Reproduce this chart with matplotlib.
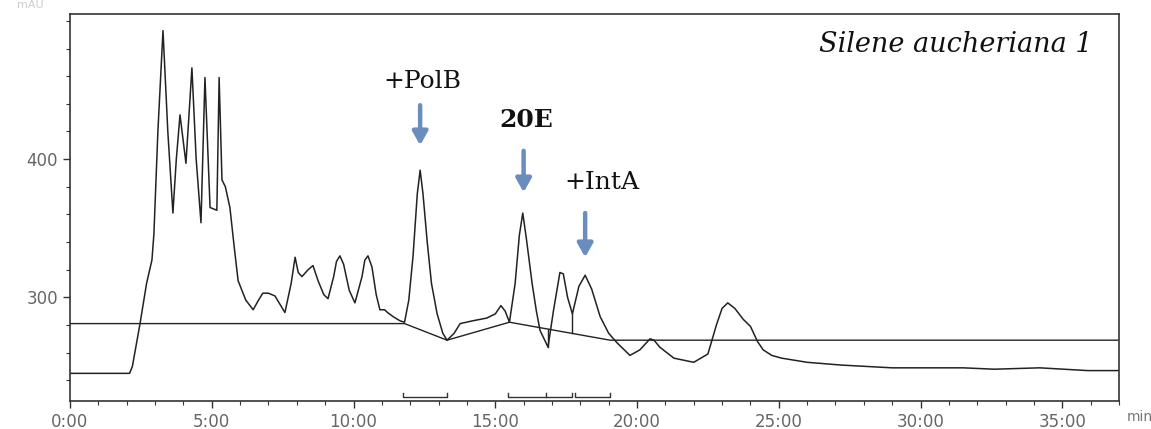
import numpy as np
import matplotlib
matplotlib.use("Agg")
import matplotlib.pyplot as plt
from matplotlib.ticker import MultipleLocator, FuncFormatter

# chromatogram trace (time in min, signal)
time = [0.0, 2.1, 2.2, 2.47, 2.7, 2.89, 2.96, 3.1, 3.28, 3.45, 3.63, 3.75, 3.88,
        4.09, 4.30, 4.45, 4.62, 4.76, 4.94, 5.18, 5.26, 5.36, 5.48, 5.64, 5.8,
        5.93, 6.2, 6.46, 6.65, 6.8, 7.0, 7.23, 7.58, 7.8, 7.94, 8.05, 8.18, 8.4,
        8.57, 8.75, 8.95, 9.1, 9.3, 9.4, 9.52, 9.65, 9.85, 10.05, 10.3, 10.4,
        10.51, 10.65, 10.8, 10.93, 11.1, 11.2, 11.4, 11.64, 11.8, 11.95, 12.1,
        12.25, 12.35, 12.45, 12.6, 12.75, 12.95, 13.15, 13.3, 13.55, 13.76, 14.2,
        14.7, 15.0, 15.2, 15.35, 15.5, 15.7, 15.85, 15.97, 16.1, 16.3, 16.45, 16.58,
        16.86, 17.05, 17.28, 17.4, 17.55, 17.72, 17.95, 18.17, 18.4, 18.7, 19.0,
        19.3, 19.75, 20.1, 20.46, 20.6, 20.8, 21.3, 22.0, 22.5, 22.8, 23.0, 23.2,
        23.45, 23.75, 24.0, 24.25, 24.45, 24.75, 25.1, 26.0, 27.2, 29.0, 31.5,
        32.6, 34.2, 35.9, 37.0]
signal = [245, 245, 250, 281, 310, 327, 346, 420, 493, 420, 361, 400, 432,
          397, 466, 400, 354, 459, 365, 363, 459, 385, 380, 365, 335,
          312, 298, 291, 298, 303, 303, 301, 289, 310, 329, 318, 315, 320,
          323, 312, 302, 299, 315, 326, 330, 324, 305, 296, 315, 327,
          330, 322, 302, 291, 291, 289, 286, 283, 282, 298, 330,
          375, 392, 375, 340, 310, 288, 274, 269, 274, 281, 283,
          285, 288, 294, 290, 282, 310, 345, 361, 342, 310, 290, 276,
          264, 290, 318, 317, 300, 288, 308, 316, 306, 286, 274,
          267, 258, 262, 270, 269, 264, 256, 253, 259, 280, 292, 296,
          292, 284, 279, 268, 262, 258, 256, 253, 251, 249, 249,
          248, 249, 247, 247]

# integration baseline
base_t = [0.0, 11.8, 13.3, 15.5, 19.05, 37.0]
base_y = [281, 281, 269, 282, 269, 269]

# drop lines (time, low, high)
drops = [(16.86, 264, 277), (17.72, 274, 288)]

# integration brackets (start, end, inner ticks)
brackets = [(11.75, 13.3, []), (15.45, 17.7, [16.8]), (17.8, 19.05, [])]
bracket_y = 228

# peak annotations: label, arrow x, arrow top, arrow tip, label x, label y, bold
peaks = [("+PolB", 12.35, 439, 410, 12.42, 456, False),
         ("20E", 16.0, 406, 376, 16.1, 428, True),
         ("+IntA", 18.17, 361, 329, 18.77, 383, False)]

fig = plt.figure(figsize=(11.51, 4.29), dpi=100)
ax = fig.add_axes([70 / 1151, 1 - 401 / 429, 1049 / 1151, 387 / 429])

ax.plot(time, signal, color="#222222", lw=1.1)
ax.plot(base_t, base_y, color="#222222", lw=1.0)
for t, lo, hi in drops:
    ax.plot([t, t], [lo, hi], color="#222222", lw=1.0)

for a, b, mids in brackets:
    ax.plot([a, a, b, b], [bracket_y + 3, bracket_y, bracket_y, bracket_y + 3],
            color="#333333", lw=1.0)
    for m in mids:
        ax.plot([m, m], [bracket_y, bracket_y + 3], color="#333333", lw=1.0)

arrow_col = "#6a8dbd"
for lab, ax_x, top, tip, lx, ly, bold in peaks:
    ax.annotate("", xy=(ax_x, tip), xytext=(ax_x, top),
                arrowprops=dict(arrowstyle="-|>,head_width=0.45,head_length=0.8",
                                color=arrow_col, lw=3.2, shrinkA=0, shrinkB=0))
    ax.text(lx, ly, lab, ha="center", va="center", fontsize=18,
            family="DejaVu Serif", fontweight="bold" if bold else "normal",
            color="#111111")

ax.text(0.975, 0.92, "Silene aucheriana 1", transform=ax.transAxes, ha="right",
        va="center", fontsize=19.5, family="DejaVu Serif", style="italic",
        color="#111111")

ax.set_xlim(0, 37)
ax.set_ylim(225, 505)
ax.xaxis.set_major_locator(MultipleLocator(5))
ax.xaxis.set_minor_locator(MultipleLocator(1))
ax.xaxis.set_major_formatter(FuncFormatter(lambda v, p: "%d:00" % v))
ax.set_yticks([300, 400])
ax.yaxis.set_minor_locator(MultipleLocator(20))
ax.tick_params(which="major", length=5, width=1, colors="#333333",
               labelcolor="#666666", labelsize=12)
ax.tick_params(which="minor", length=3, width=0.8, colors="#333333")
for s in ax.spines.values():
    s.set_color("#333333")
    s.set_linewidth(1.2)

fig.text(1140 / 1151, 1 - 417 / 429, "min", ha="center", va="center",
         fontsize=10, color="#777777")
fig.text(30 / 1151, 1 - 5 / 429, "mAU", ha="center", va="center",
         fontsize=8, color="#cccccc")

fig.savefig("out.png", dpi=100)
